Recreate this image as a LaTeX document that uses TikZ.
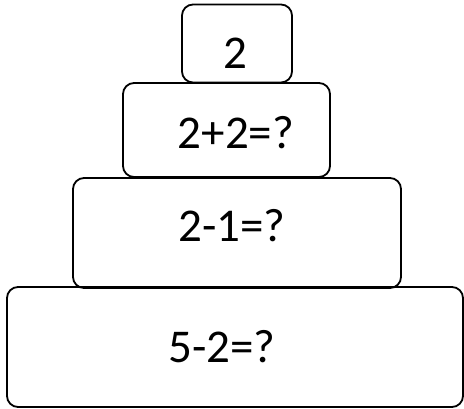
\documentclass[tikz,border=0pt]{standalone}
\usepackage{fontspec}
\setmainfont{Carlito}

\begin{document}
\begin{tikzpicture}[x=1pt,y=-1pt,
  box/.style={draw,line width=1.8pt,rounded corners=11pt,inner sep=0pt},
  sum/.style={font=\fontsize{47}{54}\selectfont,inner sep=0pt}]
  \useasboundingbox (0,0) rectangle (464,408);

  % the stacked boxes, top to bottom
  \node[box,minimum width=110pt,minimum height=78pt] (b1) at (237,43.5) {};
  \node[box,minimum width=207pt,minimum height=94pt] (b2) at (226.5,130) {};
  \node[box,minimum width=328pt,minimum height=110pt] (b3) at (237,233) {};
  \node[box,minimum width=456pt,minimum height=120pt] (b4) at (235,347) {};

  % the sums
  \node[sum] (t1) at (235,53) {2};
  \node[sum] (t2) at (236,133) {2+2=?};
  \node[sum] (t3) at (232,226) {2-1=?};
  \node[sum] (t4) at (222,347) {5-2=?};
\end{tikzpicture}
\end{document}
